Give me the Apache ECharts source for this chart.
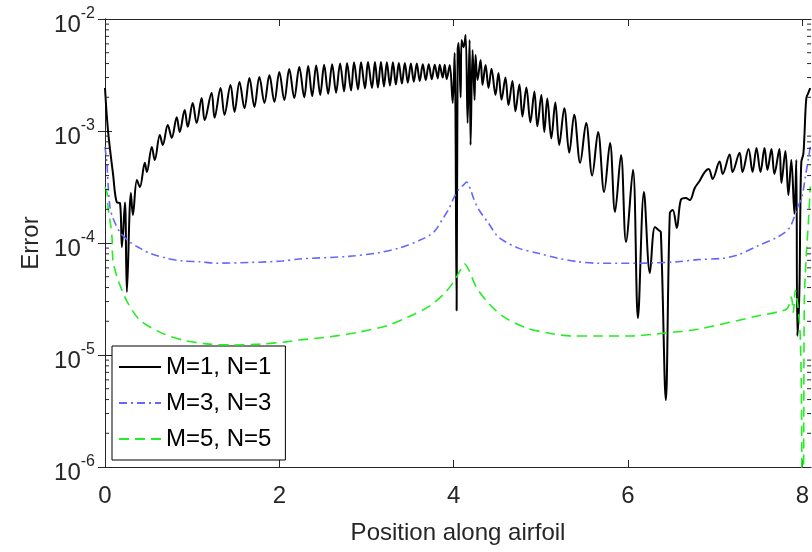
<!DOCTYPE html>
<html><head><meta charset="utf-8">
<script src="https://cdn.jsdelivr.net/npm/echarts@6/dist/echarts.min.js"></script>
<style>html,body{margin:0;padding:0;background:#fff}#c{width:812px;height:552px}</style>
</head><body><div id="c"></div>
<script>
// ---------- data ----------
const xTicks = [0, 2, 4, 6, 8];
const yMinor = [2e-6,3e-6,4e-6,5e-6,6e-6,7e-6,8e-6,9e-6,
                2e-5,3e-5,4e-5,5e-5,6e-5,7e-5,8e-5,9e-5,
                2e-4,3e-4,4e-4,5e-4,6e-4,7e-4,8e-4,9e-4,
                2e-3,3e-3,4e-3,5e-3,6e-3,7e-3,8e-3,9e-3];
const seriesNames = ['M=1, N=1', 'M=3, N=3', 'M=5, N=5'];

const blackX = [0,0.034,0.091,0.137,0.171,0.194,0.229,0.251,0.297,0.32,0.366,0.4,0.457,0.48,0.537,0.571,0.629,0.663,0.72,0.766,
0.823,0.857,0.914,0.949,1.006,1.051,1.109,1.143,1.223,1.257,1.326,1.371,1.44,1.486,1.543,1.6,1.657,1.714,1.771,1.829,
1.886,1.943,2.0,2.057,2.114,2.171,2.229,2.286,2.331,2.377,2.423,2.469,2.514,2.56,2.606,2.651,2.697,2.743,2.777,2.823,
2.857,2.903,2.937,2.983,3.017,3.063,3.097,3.131,3.166,3.2,3.234,3.269,3.303,3.337,3.371,3.406,3.44,3.474,3.509,3.543,
3.577,3.611,3.646,3.68,3.714,3.749,3.783,3.817,3.84,3.874,3.897,3.92,3.955,3.989,4.011,4.034,4.046,4.057,4.08,4.091,
4.114,4.137,4.16,4.183,4.194,4.217,4.24,4.251,4.274,4.309,4.331,4.366,4.4,4.434,4.48,4.514,4.549,4.594,4.629,4.674,
4.709,4.754,4.789,4.834,4.88,4.926,4.96,5.006,5.04,5.074,5.12,5.166,5.211,5.269,5.326,5.383,5.451,5.52,5.589,5.657,
5.726,5.794,5.851,5.92,5.977,6.057,6.114,6.183,6.251,6.309,6.354,6.377,6.434,6.48,6.514,6.56,6.606,6.663,6.709,6.766,
6.823,6.88,6.926,6.971,7.051,7.086,7.166,7.2,7.28,7.314,7.383,7.429,7.474,7.52,7.566,7.6,7.646,7.68,7.737,7.76,
7.806,7.84,7.874,7.909,7.931,7.943,7.966,7.977,7.989,8.011,8.023,8.046,8.069,8.091];
const blackY = [2.42e-3,1.02e-3,4.2e-4,2.3e-4,2.28e-4,9.2e-5,2.3e-4,3.65e-5,2.8e-4,1.78e-4,3.65e-4,3.16e-4,5.2e-4,4.3e-4,7.2e-4,5.5e-4,9.2e-4,7.5e-4,1.13e-3,8.7e-4,
1.33e-3,9.8e-4,1.54e-3,1.09e-3,1.78e-3,1.18e-3,1.97e-3,1.25e-3,2.19e-3,1.31e-3,2.42e-3,1.39e-3,2.58e-3,1.48e-3,2.74e-3,1.6e-3,2.97e-3,1.64e-3,3.03e-3,1.78e-3,
3.16e-3,1.82e-3,3.36e-3,1.89e-3,3.58e-3,1.97e-3,3.73e-3,2.0e-3,3.8e-3,2.05e-3,3.85e-3,2.1e-3,3.9e-3,2.15e-3,3.95e-3,2.2e-3,4.0e-3,2.25e-3,4.05e-3,2.3e-3,
4.1e-3,2.35e-3,4.1e-3,2.4e-3,4.13e-3,2.42e-3,4.13e-3,2.45e-3,4.13e-3,2.5e-3,4.1e-3,2.55e-3,4.1e-3,2.6e-3,4.05e-3,2.65e-3,4.05e-3,2.7e-3,4.0e-3,2.75e-3,
4.0e-3,2.8e-3,3.95e-3,2.85e-3,3.95e-3,2.9e-3,3.9e-3,2.95e-3,3.9e-3,3.0e-3,3.9e-3,2.9e-3,3.89e-3,1.78e-3,4.96e-3,2.5e-5,5.3e-3,6.1e-3,2.0e-3,6.5e-3,
5.6e-3,7.2e-3,1.18e-3,6.5e-3,7.5e-4,5.3e-3,1.89e-3,4.77e-3,2.85e-3,4.3e-3,2.58e-3,3.89e-3,2.42e-3,3.6e-3,2.1e-3,3.3e-3,1.9e-3,3.0e-3,1.7e-3,2.8e-3,
1.5e-3,2.6e-3,1.35e-3,2.45e-3,1.2e-3,2.25e-3,1.1e-3,2.1e-3,9.8e-4,1.95e-3,8.6e-4,1.8e-3,7.5e-4,1.6e-3,6.4e-4,1.4e-3,5.2e-4,1.18e-3,4.0e-4,9.8e-4,
2.85e-4,7.8e-4,1.89e-4,6.1e-4,1.02e-4,4.5e-4,2.14e-5,2.85e-4,5.4e-5,1.39e-4,1.3e-4,1.25e-4,3.96e-6,1.85e-4,1.97e-4,1.36e-4,2.42e-4,2.52e-4,2.42e-4,3.1e-4,
3.6e-4,4.3e-4,4.58e-4,3.73e-4,5.33e-4,4.13e-4,6.17e-4,4.3e-4,6.38e-4,4.3e-4,6.9e-4,4.3e-4,7.05e-4,4.3e-4,7.05e-4,4.49e-4,6.9e-4,4.13e-4,6.9e-4,3.44e-4,
6.63e-4,2.68e-4,5.5e-4,1.82e-4,5.5e-4,1.48e-5,3.65e-5,1.93e-4,5.33e-4,6.17e-4,8.8e-4,1.97e-3,2.19e-3,2.42e-3];

const blueX = [0,0.023,0.034,0.057,0.091,0.171,0.286,0.4,0.514,0.709,0.891,1.086,1.28,1.657,2.034,2.229,2.8,3.143,3.371,3.6,
3.771,3.886,3.943,4.0,4.057,4.114,4.149,4.194,4.229,4.286,4.4,4.514,4.743,4.971,5.2,5.429,5.657,6.114,6.571,6.8,
7.086,7.257,7.486,7.714,7.851,7.943,8.0,8.034,8.069,8.091];
const blueY = [7.2e-4,5.0e-4,3.5e-4,2.1e-4,1.67e-4,1.25e-4,1.02e-4,9.0e-5,8.1e-5,7.3e-5,6.9e-5,6.8e-5,6.6e-5,6.7e-5,6.9e-5,7.2e-5,7.6e-5,8.2e-5,9.0e-5,1.05e-4,
1.25e-4,1.7e-4,2.0e-4,2.52e-4,3.0e-4,3.3e-4,3.5e-4,3.0e-4,2.5e-4,2.0e-4,1.5e-4,1.13e-4,9.0e-5,8.1e-5,7.3e-5,6.8e-5,6.6e-5,6.6e-5,6.8e-5,7.1e-5,
7.3e-5,7.8e-5,9.4e-5,1.13e-4,1.36e-4,2.05e-4,2.68e-4,3.88e-4,5.6e-4,7.2e-4];

const greenX = [0,0.023,0.034,0.057,0.08,0.091,0.137,0.194,0.263,0.4,0.629,0.891,1.2,1.463,1.771,2.08,2.229,2.571,2.914,3.257,
3.486,3.714,3.886,4.0,4.08,4.126,4.171,4.263,4.4,4.571,4.829,5.086,5.349,5.657,6.034,6.423,6.8,7.486,7.714,7.829,
7.874,7.897,7.92,7.943,7.966,7.977,7.989,8.0,8.011,8.023,8.046,8.069,8.091];
const greenY = [3.16e-4,2.8e-4,2.1e-4,1.6e-4,1.13e-4,7.0e-5,5.0e-5,3.8e-5,2.9e-5,2.05e-5,1.6e-5,1.36e-5,1.25e-5,1.23e-5,1.25e-5,1.31e-5,1.36e-5,1.45e-5,1.6e-5,1.85e-5,
2.2e-5,2.7e-5,3.5e-5,4.5e-5,5.8e-5,6.5e-5,5.8e-5,4.0e-5,2.9e-5,2.2e-5,1.75e-5,1.57e-5,1.48e-5,1.48e-5,1.48e-5,1.57e-5,1.7e-5,2.23e-5,2.42e-5,2.6e-5,
3.3e-5,2.4e-5,3.8e-5,3.0e-5,2.0e-5,1.4e-5,5e-6,5e-7,5e-7,3e-5,8e-5,1.5e-4,3.2e-4];

// ---------- chart ----------
const X_MIN = 0, X_MAX = 8.1, Y_MIN = 1e-6, Y_MAX = 1e-2;
const AX = '#262626';
const FONT = 'Liberation Sans, Arial, sans-serif';
const pair = (xs, ys) => xs.map((x, i) => [x, ys[i]]);

const chart = echarts.init(document.getElementById('c'), null, {renderer: 'canvas'});
const yLabelFmt = v => '{b|10}{s|' + Math.round(Math.log10(v)) + '}';

chart.setOption({
  animation: false,
  backgroundColor: '#fff',
  grid: {left: 105, top: 19, right: -2, bottom: 85, containLabel: false},
  legend: {
    orient: 'vertical', left: 112, top: 346,
    data: seriesNames,
    padding: [9, 14, 9, 6], itemGap: 12, itemWidth: 42, itemHeight: 14,
    backgroundColor: '#fff', borderColor: '#000', borderWidth: 1, borderRadius: 0,
    itemStyle: {opacity: 0},
    textStyle: {fontSize: 24, color: '#000', fontFamily: FONT},
    selectedMode: false
  },
  xAxis: [{
    type: 'value', min: X_MIN, max: X_MAX, position: 'bottom',
    name: 'Position along airfoil', nameLocation: 'middle', nameGap: 54,
    nameTextStyle: {fontSize: 24, color: AX, fontFamily: FONT},
    axisLine: {show: true, lineStyle: {color: AX, width: 1}},
    axisTick: {show: true, inside: true, length: 7, customValues: xTicks, lineStyle: {color: AX}},
    axisLabel: {customValues: xTicks, margin: 17, fontSize: 24, color: AX, fontFamily: FONT},
    splitLine: {show: false}
  }, {
    type: 'value', min: X_MIN, max: X_MAX, position: 'top',
    axisLine: {show: true, lineStyle: {color: AX, width: 1}},
    axisTick: {show: true, inside: true, length: 7, customValues: xTicks, lineStyle: {color: AX}},
    axisLabel: {show: false}, splitLine: {show: false}
  }],
  yAxis: [{
    type: 'log', logBase: 10, min: Y_MIN, max: Y_MAX, position: 'left',
    name: 'Error', nameLocation: 'middle', nameGap: 62, nameRotate: 90,
    nameTextStyle: {fontSize: 24, color: AX, fontFamily: FONT},
    axisLine: {show: true, lineStyle: {color: AX, width: 1}},
    axisTick: {show: true, inside: true, length: 7, lineStyle: {color: AX}},
    axisLabel: {
      formatter: yLabelFmt, margin: 10, padding: [12, 0, 0, 0],
      rich: {
        b: {fontSize: 24, color: AX, fontFamily: FONT},
        s: {fontSize: 16, color: AX, fontFamily: FONT, padding: [0, 0, 22, 0]}
      }
    },
    splitLine: {show: false}
  }, {
    type: 'log', logBase: 10, min: Y_MIN, max: Y_MAX, position: 'right',
    axisLine: {show: true, lineStyle: {color: AX, width: 1}},
    axisTick: {show: true, inside: true, length: 7, lineStyle: {color: AX}},
    axisLabel: {show: false}, splitLine: {show: false}
  }],
  series: [{
    name: seriesNames[0], type: 'line', data: pair(blackX, blackY),
    symbol: 'none', smooth: 0.35, sampling: null,
    lineStyle: {color: '#000', width: 2}, itemStyle: {color: '#000'}, z: 3
  }, {
    name: seriesNames[1], type: 'line', data: pair(blueX, blueY),
    symbol: 'none', smooth: 0.3,
    lineStyle: {color: '#6666ff', width: 1.6, type: [8, 4, 2, 4]}, itemStyle: {color: '#6666ff'}, z: 4
  }, {
    name: seriesNames[2], type: 'line', data: pair(greenX, greenY),
    symbol: 'none', smooth: 0.3,
    lineStyle: {color: '#22ee22', width: 1.6, type: [10, 6]}, itemStyle: {color: '#22ee22'}, z: 5
  }, {
    type: 'custom', silent: true, clip: false, z: 6,
    data: yMinor.map(v => [X_MIN, v]),
    renderItem: (params, api) => {
      const v = api.value(1);
      const l = api.coord([X_MIN, v]);
      const r = api.coord([X_MAX, v]);
      return {type: 'group', children: [
        {type: 'line', shape: {x1: l[0], y1: l[1], x2: l[0] + 4, y2: l[1]}, style: {stroke: AX, lineWidth: 1}},
        {type: 'line', shape: {x1: r[0], y1: r[1], x2: r[0] - 4, y2: r[1]}, style: {stroke: AX, lineWidth: 1}}
      ]};
    }
  }]
});
</script>
</body></html>
